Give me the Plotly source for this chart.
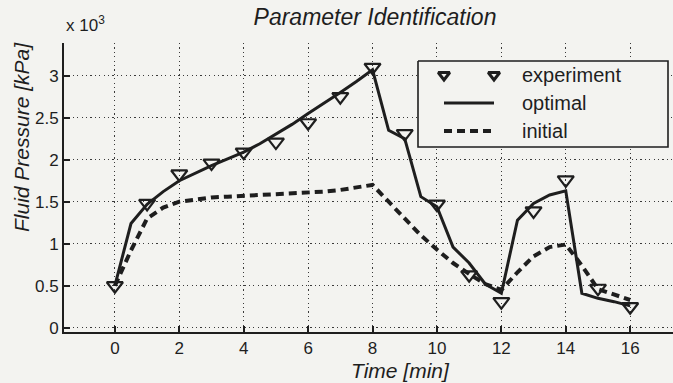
import plotly.graph_objects as go

# Measured fluid pressure (kPa) at each whole minute
time_exp = [0, 1, 2, 3, 4, 5, 6, 7, 8, 9, 10, 11, 12, 13, 14, 15, 16]
pressure_exp = [500, 1480, 1830, 1960, 2090, 2210, 2440, 2750, 3100,
                2310, 1470, 630, 310, 1390, 1760, 470, 250]

# Model responses (kPa) sampled every half minute
time_model = [0, 0.5, 1, 1.5, 2, 2.5, 3, 3.5, 4, 4.5, 5, 5.5, 6, 6.5, 7, 7.5, 8,
              8.5, 9, 9.5, 10, 10.5, 11, 11.5, 12, 12.5, 13, 13.5, 14, 14.5, 15, 15.5, 16]
pressure_optimal = [500, 1240, 1470, 1620, 1750, 1840, 1930, 2010, 2090, 2190, 2300,
                    2420, 2550, 2670, 2800, 2930, 3070, 2350, 2250, 1560, 1440, 960,
                    770, 520, 410, 1280, 1480, 1580, 1630, 410, 350, 310, 260]
pressure_initial = [500, 920, 1300, 1430, 1500, 1530, 1550, 1560, 1570, 1570, 1580,
                    1590, 1600, 1620, 1640, 1670, 1700, 1500, 1300, 1100, 930, 770,
                    640, 520, 450, 660, 850, 960, 990, 740, 460, 390, 330]

x_ticks = [0, 2, 4, 6, 8, 10, 12, 14, 16]
y_ticks = [0, 0.5, 1, 1.5, 2, 2.5, 3]
y_tick_text = ["0", "0.5", "1", "1.5", "2", "2.5", "3"]
legend_names = ["experiment", "optimal", "initial"]

SCALE = 1000.0
INK = "#1e1e1e"
PAPER = "#f3f3f0"
FONT = "Liberation Sans, Arial, sans-serif"

W, H = 673, 383
L, R, T, B = 64, 0, 43, 51

fig = go.Figure()

fig.add_trace(go.Scatter(
    x=time_model, y=[p / SCALE for p in pressure_initial], mode="lines",
    line=dict(color=INK, width=4, dash="8px,5px"), showlegend=False))
fig.add_trace(go.Scatter(
    x=time_model, y=[p / SCALE for p in pressure_optimal], mode="lines",
    line=dict(color=INK, width=3), showlegend=False))
fig.add_trace(go.Scatter(
    x=time_exp, y=[p / SCALE for p in pressure_exp], mode="markers",
    marker=dict(symbol="triangle-down-open", size=14, color=INK,
                line=dict(color=INK, width=2.2)),
    showlegend=False))

# Legend box drawn on a pixel-unit overlay axis so it sits above the data
box = dict(x0=418, x1=668, y0=61, y1=147)
rows_y = [75, 103, 131]
sample_x = [444, 494]
text_x = 520

fig.add_trace(go.Scatter(
    x=[box["x0"], box["x1"], box["x1"], box["x0"], box["x0"]],
    y=[box["y0"], box["y0"], box["y1"], box["y1"], box["y0"]],
    xaxis="x2", yaxis="y2", mode="lines", fill="toself", fillcolor=PAPER,
    line=dict(color=INK, width=1.6), hoverinfo="skip", showlegend=False))
fig.add_trace(go.Scatter(
    x=sample_x, y=[rows_y[0]] * 2, xaxis="x2", yaxis="y2", mode="markers",
    marker=dict(symbol="triangle-down-open", size=10, color=INK,
                line=dict(color=INK, width=3)),
    hoverinfo="skip", showlegend=False))
fig.add_trace(go.Scatter(
    x=sample_x, y=[rows_y[1]] * 2, xaxis="x2", yaxis="y2", mode="lines",
    line=dict(color=INK, width=3), hoverinfo="skip", showlegend=False))
fig.add_trace(go.Scatter(
    x=sample_x, y=[rows_y[2]] * 2, xaxis="x2", yaxis="y2", mode="lines",
    line=dict(color=INK, width=4, dash="8px,5px"), hoverinfo="skip", showlegend=False))

annotations = []
for name, ry in zip(legend_names, rows_y):
    annotations.append(dict(
        x=text_x, y=ry, xref="x2", yref="y2", text=name, showarrow=False,
        xanchor="left", yanchor="middle", font=dict(family=FONT, size=20, color=INK)))

def px_x(px):
    return (px - L) / (W - L - R)

def px_y(py):
    return (H - B - py) / (H - T - B)

annotations += [
    dict(x=px_x(400), y=px_y(370), xref="paper", yref="paper", text="<i>Time [min]</i>",
         showarrow=False, xanchor="center", yanchor="middle",
         font=dict(family=FONT, size=21, color=INK)),
    dict(x=px_x(21), y=px_y(137), xref="paper", yref="paper",
         text="<i>Fluid Pressure [kPa]</i>", textangle=-90, showarrow=False,
         xanchor="center", yanchor="middle", font=dict(family=FONT, size=21, color=INK)),
    dict(x=px_x(64), y=px_y(37), xref="paper", yref="paper", text="x 10<sup>3</sup>",
         showarrow=False, xanchor="left", yanchor="bottom",
         font=dict(family=FONT, size=17, color=INK)),
]

axis_common = dict(
    showline=True, linecolor=INK, linewidth=2, ticks="inside", ticklen=6,
    tickwidth=1.5, tickcolor=INK, showgrid=True, gridcolor="#3a3a3a",
    griddash="1.2px,3.2px", gridwidth=1.2, zeroline=False,
    tickfont=dict(family=FONT, size=17, color=INK))

fig.update_layout(
    width=W, height=H,
    margin=dict(l=L, r=R, t=T, b=B, pad=0),
    paper_bgcolor=PAPER, plot_bgcolor=PAPER,
    title=dict(text="<i>Parameter Identification</i>", x=375 / W, y=1 - 17 / H,
               xref="container", yref="container", xanchor="center", yanchor="middle",
               font=dict(family=FONT, size=23, color=INK)),
    xaxis=dict(range=[-1.58, 17.33], tickvals=x_ticks, **axis_common),
    yaxis=dict(range=[-0.051, 3.389], tickvals=y_ticks, ticktext=y_tick_text,
               **axis_common),
    xaxis2=dict(overlaying="x", range=[L, W - R], visible=False, fixedrange=True),
    yaxis2=dict(overlaying="y", range=[H - B, T], visible=False, fixedrange=True),
    annotations=annotations,
    showlegend=False,
)

fig.write_html("out.html")
